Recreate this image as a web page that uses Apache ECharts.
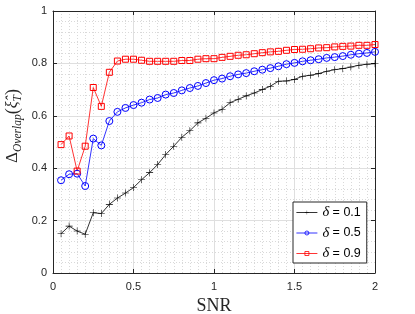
<!DOCTYPE html>
<html>
<head>
<meta charset="utf-8">
<script src="https://cdn.jsdelivr.net/npm/echarts@6/dist/echarts.min.js"></script>
<style>
html,body{margin:0;padding:0;background:#fff;}
#c{width:415px;height:314px;}
</style>
</head>
<body>
<div id="c"></div>
<script>
const snr = [0.05,0.1,0.15,0.2,0.25,0.3,0.35,0.4,0.45,0.5,0.55,0.6,0.65,0.7,0.75,0.8,0.85,0.9,0.95,1.0,
             1.05,1.1,1.15,1.2,1.25,1.3,1.35,1.4,1.45,1.5,1.55,1.6,1.65,1.7,1.75,1.8,1.85,1.9,1.95,2.0];
const delta01 = [0.150,0.179,0.160,0.148,0.230,0.227,0.262,0.286,0.305,0.326,0.356,0.383,0.414,0.452,0.484,0.518,0.543,0.573,0.591,0.611,
                 0.625,0.650,0.663,0.676,0.687,0.700,0.713,0.732,0.733,0.739,0.751,0.755,0.761,0.770,0.776,0.780,0.786,0.793,0.797,0.799];
const delta05 = [0.354,0.377,0.379,0.332,0.513,0.487,0.580,0.615,0.630,0.641,0.650,0.662,0.668,0.681,0.687,0.697,0.706,0.714,0.725,0.736,
                 0.742,0.751,0.758,0.763,0.770,0.776,0.782,0.789,0.797,0.802,0.808,0.812,0.816,0.821,0.824,0.828,0.833,0.837,0.840,0.844];
const delta09 = [0.490,0.523,0.389,0.484,0.708,0.636,0.766,0.809,0.816,0.816,0.812,0.808,0.808,0.808,0.808,0.811,0.811,0.816,0.818,0.818,
                 0.823,0.827,0.831,0.833,0.837,0.841,0.844,0.846,0.850,0.853,0.854,0.856,0.859,0.860,0.863,0.865,0.866,0.869,0.869,0.872];
const seriesNames = ['δ = 0.1','δ = 0.5','δ = 0.9'];
const xTicks = ['0','0.5','1','1.5','2'];
const yTicks = ['0','0.2','0.4','0.6','0.8','1'];

const pair = (xs, ys) => xs.map((x, i) => [x, ys[i]]);
const plusPath = 'path://M4.6,0H5.4V4.6H10V5.4H5.4V10H4.6V5.4H0V4.6H4.6Z';
const axisCol = '#262626';
const sans = '"Liberation Sans", Arial, Helvetica, sans-serif';
const serif = '"Liberation Serif", "Times New Roman", serif';

const chart = echarts.init(document.getElementById('c'), null, {renderer: 'canvas'});

function xLab(v){ const i = Math.round(v/0.5); return xTicks[i] !== undefined ? xTicks[i] : ''; }
function yLab(v){ const i = Math.round(v/0.2); return yTicks[i] !== undefined ? yTicks[i] : ''; }

const baseX = {
  type: 'value', min: 0, max: 2, interval: 0.5,
  axisLine: {show: true, onZero: false, lineStyle: {color: axisCol, width: 1}},
  axisTick: {show: true, inside: true, length: 4, lineStyle: {color: axisCol}},
  minorTick: {show: false, splitNumber: 10}
};
const baseY = {
  type: 'value', min: 0, max: 1, interval: 0.2,
  axisLine: {show: true, onZero: false, lineStyle: {color: axisCol, width: 1}},
  axisTick: {show: true, inside: true, length: 4, lineStyle: {color: axisCol}},
  minorTick: {show: false, splitNumber: 5}
};

chart.setOption({
  animation: false,
  backgroundColor: '#fff',
  grid: {left: 53, right: 40, top: 11, bottom: 41, containLabel: false, outerBoundsMode: 'none'},
  xAxis: [
    Object.assign({}, baseX, {
      position: 'bottom',
      axisLabel: {show: true, formatter: xLab, color: axisCol, fontFamily: sans, fontSize: 11, margin: 8},
      splitLine: {show: true, lineStyle: {color: '#dfdfdf', width: 1}},
      minorSplitLine: {show: true, lineStyle: {color: '#d9d9d9', width: 1, type: [1, 2]}},
      name: 'SNR', nameLocation: 'middle', nameGap: 24,
      nameTextStyle: {fontFamily: serif, fontSize: 18, color: axisCol}
    }),
    Object.assign({}, baseX, {
      position: 'top', axisLabel: {show: false}, splitLine: {show: false}
    })
  ],
  yAxis: [
    Object.assign({}, baseY, {
      position: 'left',
      axisLabel: {show: true, formatter: yLab, color: axisCol, fontFamily: sans, fontSize: 11, margin: 6},
      splitLine: {show: true, lineStyle: {color: '#dfdfdf', width: 1}},
      minorSplitLine: {show: true, lineStyle: {color: '#d9d9d9', width: 1, type: [1, 2]}}
    }),
    Object.assign({}, baseY, {
      position: 'right', axisLabel: {show: false}, splitLine: {show: false}
    })
  ],
  legend: {
    orient: 'vertical',
    left: 293, top: 202,
    padding: [3, 6, 2, 3],
    itemGap: 5.5,
    itemWidth: 21, itemHeight: 5,
    backgroundColor: '#fff',
    borderColor: '#262626', borderWidth: 1,
    lineStyle: {width: 0.8},
    itemStyle: {borderWidth: 0.8},
    data: seriesNames,
    formatter: function(n){ return '{d|δ}' + n.slice(1); },
    textStyle: {
      fontFamily: sans, fontSize: 12.5, color: '#000', lineHeight: 14,
      rich: {d: {fontFamily: serif, fontStyle: 'italic', fontSize: 14.5, color: '#000'}}
    }
  },
  graphic: [{
    type: 'text',
    x: 13, y: 126,
    rotation: Math.PI / 2,
    style: {
      text: '{d|Δ}{s|Overlap}{p|(}{x|ξ̂}{t|T}{p|)}',
      align: 'center', verticalAlign: 'middle',
      fill: axisCol,
      rich: {
        d: {fontFamily: serif, fontSize: 17, lineHeight: 22, verticalAlign: 'middle', fill: axisCol},
        s: {fontFamily: serif, fontStyle: 'italic', fontSize: 11.5, lineHeight: 11, verticalAlign: 'bottom', fill: axisCol},
        p: {fontFamily: serif, fontSize: 18, lineHeight: 22, verticalAlign: 'middle', fill: axisCol},
        x: {fontFamily: serif, fontStyle: 'italic', fontSize: 16, lineHeight: 22, verticalAlign: 'middle', fill: axisCol},
        t: {fontFamily: serif, fontStyle: 'italic', fontSize: 11.5, lineHeight: 11, verticalAlign: 'bottom', fill: axisCol}
      }
    }
  }],
  series: [
    {
      name: seriesNames[0], type: 'line', data: pair(snr, delta01),
      symbol: plusPath, symbolSize: 7,
      lineStyle: {color: '#000', width: 0.8},
      itemStyle: {color: '#000'}
    },
    {
      name: seriesNames[1], type: 'line', data: pair(snr, delta05),
      symbol: 'circle', symbolSize: 7,
      lineStyle: {color: '#0000ff', width: 0.8},
      itemStyle: {color: 'rgba(255,255,255,0)', borderColor: '#0000ff', borderWidth: 1}
    },
    {
      name: seriesNames[2], type: 'line', data: pair(snr, delta09),
      symbol: 'rect', symbolSize: 6,
      lineStyle: {color: '#ff0000', width: 0.8},
      itemStyle: {color: 'rgba(255,255,255,0)', borderColor: '#ff0000', borderWidth: 1}
    }
  ]
});
</script>
</body>
</html>
